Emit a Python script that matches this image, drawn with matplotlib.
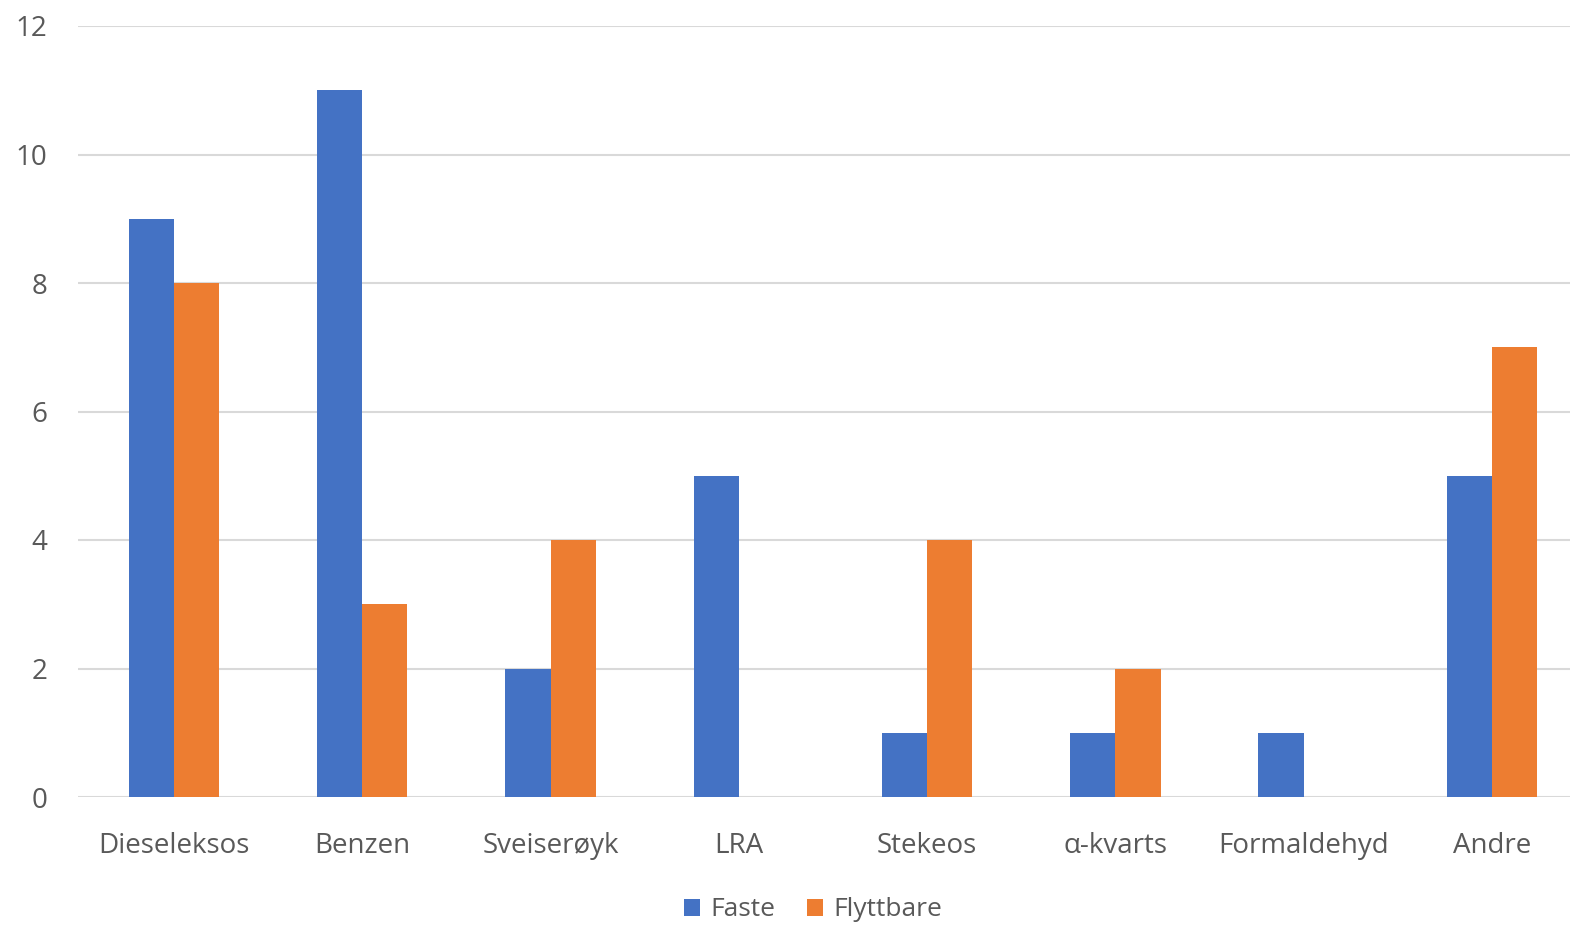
import matplotlib
matplotlib.use('Agg')
import matplotlib.pyplot as plt
import numpy as np

# Data
categories = ["Dieseleksos", "Benzen", "Sveiserøyk", "LRA", "Stekeos",
              "\u03b1-kvarts", "Formaldehyd", "Andre"]
faste = [9, 11, 2, 5, 1, 1, 1, 5]
flyttbare = [8, 3, 4, 0, 4, 2, 0, 7]

blue = "#4472C4"
orange = "#ED7D31"
grey_text = "#595959"

plt.rcParams['font.family'] = ['Open Sans', 'DejaVu Sans']

fig = plt.figure(figsize=(15.7, 9.27), dpi=100)
# plot area runs a bit past the right edge of the picture, as in the reference
ax = fig.add_axes([78 / 1570, 1 - 797 / 927, 1508 / 1570, (797 - 26) / 927])

x = np.arange(len(categories))
w = 0.24
ax.bar(x - w / 2, faste, w, color=blue, label="Faste", zorder=3)
ax.bar(x + w / 2, flyttbare, w, color=orange, label="Flyttbare", zorder=3)

ax.set_xlim(-0.51, len(categories) - 0.5)
ax.set_ylim(0, 12)
ax.set_yticks(range(0, 13, 2))
ax.yaxis.grid(True, color="#d9d9d9", linewidth=1.5, zorder=0)
ax.set_xticks(x)
ax.set_xticklabels(categories)
ax.tick_params(axis='both', length=0, colors=grey_text, labelsize=20)
ax.tick_params(axis='x', pad=25)
ax.tick_params(axis='y', pad=22)
for s in ax.spines.values():
    s.set_visible(False)

fig.legend(loc="center", bbox_to_anchor=(813 / 1570, 1 - 910 / 927), ncol=2, frameon=False,
           fontsize=19, handlelength=0.6, handleheight=0.6, handletextpad=0.4,
           columnspacing=1.2, labelcolor=grey_text)

fig.savefig("out.png", dpi=100)
